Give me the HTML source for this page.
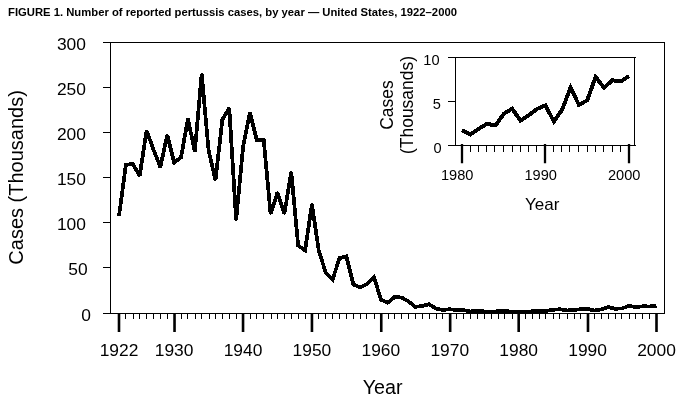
<!DOCTYPE html>
<html><head><meta charset="utf-8"><title>FIGURE 1</title>
<style>html,body{margin:0;padding:0;background:#fff;}svg{filter:grayscale(100%);}body{width:690px;height:407px;position:relative;overflow:hidden;font-family:"Liberation Sans",sans-serif;}</style></head>
<body>
<svg width="690" height="407" viewBox="0 0 690 407" style="position:absolute;left:0;top:0">
<g fill="none" stroke="#000" stroke-width="1">
<path d="M103.0,42.5 H665.0 M664.5,42.5 V313.5 M665.0,313.5 H103.0 M110.5,42.5 V313.5"/>
<path d="M103.0,267.5 H110.5"/>
<path d="M103.0,222.5 H110.5"/>
<path d="M103.0,177.5 H110.5"/>
<path d="M103.0,132.5 H110.5"/>
<path d="M103.0,87.5 H110.5"/>
<path d="M119.5,313.5 V319 M125.5,313.5 V319 M133.5,313.5 V319 M139.5,313.5 V319 M146.5,313.5 V319 M153.5,313.5 V319 M160.5,313.5 V319 M167.5,313.5 V319 M174.5,313.5 V319 M181.5,313.5 V319 M187.5,313.5 V319 M195.5,313.5 V319 M201.5,313.5 V319 M209.5,313.5 V319 M215.5,313.5 V319 M222.5,313.5 V319 M229.5,313.5 V319 M236.5,313.5 V319 M243.5,313.5 V319 M250.5,313.5 V319 M256.5,313.5 V319 M263.5,313.5 V319 M271.5,313.5 V319 M277.5,313.5 V319 M284.5,313.5 V319 M291.5,313.5 V319 M298.5,313.5 V319 M305.5,313.5 V319 M311.5,313.5 V319 M318.5,313.5 V319 M325.5,313.5 V319 M332.5,313.5 V319 M339.5,313.5 V319 M346.5,313.5 V319 M353.5,313.5 V319 M360.5,313.5 V319 M366.5,313.5 V319 M374.5,313.5 V319 M380.5,313.5 V319 M388.5,313.5 V319 M394.5,313.5 V319 M401.5,313.5 V319 M408.5,313.5 V319 M415.5,313.5 V319 M422.5,313.5 V319 M429.5,313.5 V319 M436.5,313.5 V319 M442.5,313.5 V319 M449.5,313.5 V319 M456.5,313.5 V319 M463.5,313.5 V319 M470.5,313.5 V319 M477.5,313.5 V319 M484.5,313.5 V319 M491.5,313.5 V319 M498.5,313.5 V319 M504.5,313.5 V319 M512.5,313.5 V319 M518.5,313.5 V319 M525.5,313.5 V319 M532.5,313.5 V319 M539.5,313.5 V319 M545.5,313.5 V319 M553.5,313.5 V319 M559.5,313.5 V319 M567.5,313.5 V319 M574.5,313.5 V319 M580.5,313.5 V319 M587.5,313.5 V319 M594.5,313.5 V319 M601.5,313.5 V319 M608.5,313.5 V319 M615.5,313.5 V319 M621.5,313.5 V319 M629.5,313.5 V319 M635.5,313.5 V319 M642.5,313.5 V319 M649.5,313.5 V319 M656.5,313.5 V319 "/>
<path d="M448.0,57.5 H636.0 M634.5,57.5 V145.5 M636.0,145.5 H448.0 M455.5,57.5 V145.5"/>
<path d="M448.0,101.5 H455.5"/>
<path d="M462.5,145.5 V152 M470.5,145.5 V152 M478.5,145.5 V152 M486.5,145.5 V152 M494.5,145.5 V152 M503.5,145.5 V152 M512.5,145.5 V152 M520.5,145.5 V152 M528.5,145.5 V152 M536.5,145.5 V152 M545.5,145.5 V152 M553.5,145.5 V152 M561.5,145.5 V152 M569.5,145.5 V152 M578.5,145.5 V152 M587.5,145.5 V152 M595.5,145.5 V152 M603.5,145.5 V152 M612.5,145.5 V152 M620.5,145.5 V152 M629.5,145.5 V152 "/>
</g>
<path d="M119.00,313 V332 M174.53,313 V332 M243.04,313 V332 M311.95,313 V332 M381.26,313 V332 M450.17,313 V332 M518.68,313 V332 M587.99,313 V332 M656.50,313 V332 " fill="none" stroke="#000" stroke-width="2.6"/>
<path d="M462.00,144 V163.2 M545.00,144 V163.2 M629.00,144 V163.2 " fill="none" stroke="#000" stroke-width="2.3"/>
<polyline points="119.00,216.10 125.89,164.95 132.78,163.85 139.67,175.94 146.56,130.67 153.46,149.43 160.35,167.11 167.24,135.04 174.13,162.50 181.02,157.41 187.91,118.83 194.80,151.48 201.69,73.82 208.58,150.23 215.47,180.24 222.37,119.46 229.26,108.03 236.15,219.96 243.04,147.21 249.93,112.65 256.82,140.44 263.71,139.98 270.60,213.93 277.49,192.36 284.38,213.94 291.28,171.87 298.17,245.63 305.06,250.35 311.95,204.15 318.84,251.07 325.73,272.40 332.62,279.52 339.51,258.10 346.40,256.39 353.29,284.39 360.19,287.49 367.08,284.01 373.97,276.93 380.86,299.65 387.75,302.66 394.64,297.00 401.53,297.55 408.42,301.27 415.31,306.87 422.21,306.04 429.10,304.24 435.99,308.66 442.88,310.04 449.77,309.17 456.66,310.26 463.55,310.04 470.44,311.41 477.33,310.83 484.22,311.43 491.12,312.09 498.01,311.04 504.90,311.14 511.79,311.54 518.68,311.44 525.57,311.87 532.46,311.29 539.35,310.78 546.24,310.95 553.13,309.76 560.03,309.22 566.92,310.45 573.81,309.89 580.70,309.25 587.59,308.88 594.48,310.55 601.37,309.32 608.26,307.06 615.15,308.84 622.04,308.37 628.94,305.97 635.83,307.08 642.72,306.32 649.61,306.43 656.50,305.91" fill="none" stroke="#000" stroke-width="3.75" stroke-linejoin="miter" stroke-miterlimit="3" stroke-linecap="butt" shape-rendering="crispEdges"/>
<polyline points="119.00,216.10 125.89,164.95 132.78,163.85 139.67,175.94 146.56,130.67 153.46,149.43 160.35,167.11 167.24,135.04 174.13,162.50 181.02,157.41 187.91,118.83 194.80,151.48 201.69,73.82 208.58,150.23 215.47,180.24 222.37,119.46 229.26,108.03 236.15,219.96 243.04,147.21 249.93,112.65 256.82,140.44 263.71,139.98 270.60,213.93 277.49,192.36 284.38,213.94 291.28,171.87 298.17,245.63 305.06,250.35 311.95,204.15 318.84,251.07 325.73,272.40 332.62,279.52 339.51,258.10 346.40,256.39 353.29,284.39 360.19,287.49 367.08,284.01 373.97,276.93 380.86,299.65 387.75,302.66 394.64,297.00 401.53,297.55 408.42,301.27 415.31,306.87 422.21,306.04 429.10,304.24 435.99,308.66 442.88,310.04 449.77,309.17 456.66,310.26 463.55,310.04 470.44,311.41 477.33,310.83 484.22,311.43 491.12,312.09 498.01,311.04 504.90,311.14 511.79,311.54 518.68,311.44 525.57,311.87 532.46,311.29 539.35,310.78 546.24,310.95 553.13,309.76 560.03,309.22 566.92,310.45 573.81,309.89 580.70,309.25 587.59,308.88 594.48,310.55 601.37,309.32 608.26,307.06 615.15,308.84 622.04,308.37 628.94,305.97 635.83,307.08 642.72,306.32 649.61,306.43 656.50,305.91" fill="none" stroke="#000" stroke-width="2.0" stroke-linejoin="round" stroke-linecap="butt" shape-rendering="crispEdges"/>
<polyline points="462.00,130.28 470.35,134.52 478.70,128.82 487.05,123.83 495.40,125.47 503.75,113.92 512.10,108.58 520.45,120.66 528.80,115.14 537.15,108.92 545.50,105.28 553.85,121.57 562.20,109.57 570.55,87.54 578.90,104.87 587.25,100.29 595.60,76.90 603.95,87.74 612.30,80.34 620.65,81.37 629.00,76.27" fill="none" stroke="#000" stroke-width="3.95" stroke-linejoin="miter" stroke-miterlimit="3" stroke-linecap="butt" shape-rendering="crispEdges"/>
<polyline points="462.00,130.28 470.35,134.52 478.70,128.82 487.05,123.83 495.40,125.47 503.75,113.92 512.10,108.58 520.45,120.66 528.80,115.14 537.15,108.92 545.50,105.28 553.85,121.57 562.20,109.57 570.55,87.54 578.90,104.87 587.25,100.29 595.60,76.90 603.95,87.74 612.30,80.34 620.65,81.37 629.00,76.27" fill="none" stroke="#000" stroke-width="2.0" stroke-linejoin="round" stroke-linecap="butt" shape-rendering="crispEdges"/>
<g font-family="Liberation Sans, sans-serif" fill="#000">
<text x="8.0" y="15.7" font-size="11.28" font-weight="bold">FIGURE 1. Number of reported pertussis cases, by year — United States, 1922–2000</text>
<text x="90.8" y="321.20" font-size="17.4" text-anchor="end">0</text>
<text x="87.7" y="275.20" font-size="17.4" text-anchor="end">50</text>
<text x="85.9" y="230.20" font-size="17.4" text-anchor="end">100</text>
<text x="85.9" y="185.20" font-size="17.4" text-anchor="end">150</text>
<text x="85.9" y="140.20" font-size="17.4" text-anchor="end">200</text>
<text x="85.9" y="95.20" font-size="17.4" text-anchor="end">250</text>
<text x="85.9" y="50.20" font-size="17.4" text-anchor="end">300</text>
<text x="119.00" y="356.1" font-size="17.4" text-anchor="middle">1922</text>
<text x="174.13" y="356.1" font-size="17.4" text-anchor="middle">1930</text>
<text x="243.04" y="356.1" font-size="17.4" text-anchor="middle">1940</text>
<text x="311.95" y="356.1" font-size="17.4" text-anchor="middle">1950</text>
<text x="380.86" y="356.1" font-size="17.4" text-anchor="middle">1960</text>
<text x="449.77" y="356.1" font-size="17.4" text-anchor="middle">1970</text>
<text x="518.68" y="356.1" font-size="17.4" text-anchor="middle">1980</text>
<text x="587.59" y="356.1" font-size="17.4" text-anchor="middle">1990</text>
<text x="656.50" y="356.1" font-size="17.4" text-anchor="middle">2000</text>
<text x="382.6" y="393.9" font-size="19.7" text-anchor="middle">Year</text>
<text transform="translate(22.8,177.4) rotate(-90)" font-size="20" text-anchor="middle">Cases (Thousands)</text>
<text x="441.6" y="152.60" font-size="14.6" text-anchor="end">0</text>
<text x="440.9" y="108.60" font-size="14.6" text-anchor="end">5</text>
<text x="439.6" y="64.60" font-size="14.6" text-anchor="end">10</text>
<text x="457.20" y="180.3" font-size="14.6" text-anchor="middle">1980</text>
<text x="540.70" y="180.3" font-size="14.6" text-anchor="middle">1990</text>
<text x="624.20" y="180.3" font-size="14.6" text-anchor="middle">2000</text>
<text x="542.2" y="209.5" font-size="17" text-anchor="middle">Year</text>
<text transform="translate(393.4,105) rotate(-90)" font-size="17.45" text-anchor="middle">Cases</text>
<text transform="translate(413.4,105.0) rotate(-90)" font-size="17.45" text-anchor="middle">(Thousands)</text>
</g>
</svg>
</body></html>
